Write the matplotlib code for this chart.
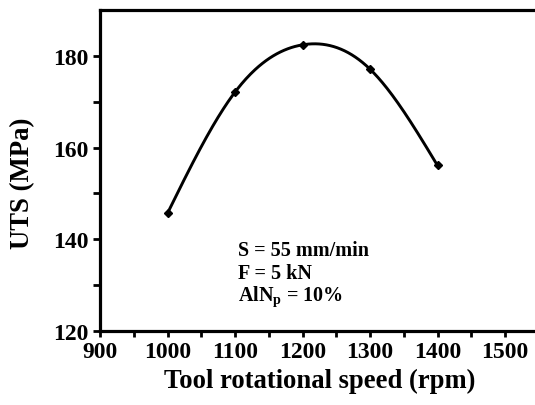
import matplotlib
matplotlib.use("Agg")
import matplotlib.pyplot as plt
import numpy as np

# data
speed = [1000, 1100, 1200, 1300, 1400]
uts = [145.7, 172.1, 182.4, 177.1, 156.1]
x_ticks = [900, 1000, 1100, 1200, 1300, 1400, 1500]
y_ticks = [120, 140, 160, 180]
notes = ["S = 55 mm/min", "F = 5 kN", r"AlN$_{\mathrm{p}}$ = 10%"]


def natural_spline(x, y, xs):
    """Natural cubic spline, only used to draw the smooth line."""
    x = np.asarray(x, float)
    y = np.asarray(y, float)
    n = len(x)
    h = np.diff(x)
    A = np.zeros((n, n))
    b = np.zeros(n)
    A[0, 0] = A[-1, -1] = 1
    for i in range(1, n - 1):
        A[i, i - 1] = h[i - 1]
        A[i, i] = 2 * (h[i - 1] + h[i])
        A[i, i + 1] = h[i]
        b[i] = 3 * ((y[i + 1] - y[i]) / h[i] - (y[i] - y[i - 1]) / h[i - 1])
    c = np.linalg.solve(A, b)
    out = np.empty_like(xs)
    for k, xv in enumerate(xs):
        i = min(max(np.searchsorted(x, xv) - 1, 0), n - 2)
        d = xv - x[i]
        bi = (y[i + 1] - y[i]) / h[i] - h[i] * (2 * c[i] + c[i + 1]) / 3
        di = (c[i + 1] - c[i]) / (3 * h[i])
        out[k] = y[i] + bi * d + c[i] * d ** 2 + di * d ** 3
    return out


plt.rcParams["font.family"] = "Liberation Serif"
plt.rcParams["font.weight"] = "bold"
plt.rcParams["mathtext.fontset"] = "custom"
plt.rcParams["mathtext.rm"] = "Liberation Serif:bold"
plt.rcParams["mathtext.it"] = "Liberation Serif:bold"

fig = plt.figure(figsize=(5.35, 4.06), dpi=100)
ax = fig.add_axes([0.187, 0.182, 0.82, 0.791])

xs = np.linspace(speed[0], speed[-1], 300)
ax.plot(xs, natural_spline(speed, uts, xs), color="black", lw=2.1)
ax.plot(speed, uts, "D", color="black", ms=4.5)

ax.set_xlim(900, 1550)
ax.set_ylim(120, 190)
ax.set_xticks(x_ticks)
ax.set_xticks([950, 1050, 1150, 1250, 1350, 1450, 1550], minor=True)
ax.set_yticks(y_ticks)
ax.set_yticks([130, 150, 170], minor=True)
ax.tick_params(axis="both", which="both", direction="out", width=2,
               labelsize=17)
ax.tick_params(axis="x", which="both", length=4, pad=3)
ax.tick_params(axis="y", which="both", length=5, pad=3)
for lab in ax.get_xticklabels() + ax.get_yticklabels():
    lab.set_fontweight("bold")

for side in ["left", "bottom", "top"]:
    ax.spines[side].set_linewidth(2.3)

ax.set_xlabel("Tool rotational speed (rpm)", fontsize=19.2, fontweight="bold",
              labelpad=4)
ax.set_ylabel("UTS (MPa)", fontsize=19.3, fontweight="bold")
ax.yaxis.set_label_coords(-0.148, 0.464)

for i, t in enumerate(notes):
    ax.text(1105, 136.5 - i * 4.9, t, fontsize=14.5, fontweight="bold",
            ha="left", va="baseline")

fig.savefig("out.png", dpi=100)
